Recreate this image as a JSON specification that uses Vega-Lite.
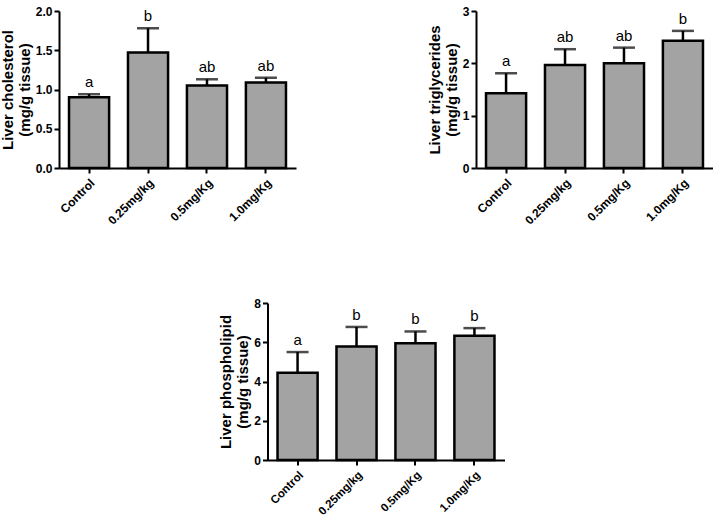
{
  "$schema": "https://vega.github.io/schema/vega-lite/v6.json",
  "background": "white",
  "padding": {"left": 0, "top": 5, "right": 0, "bottom": 0},
  "datasets": {
    "chol": [
      {"group": "Control", "mean": 0.90, "upper": 0.94, "sig": "a"},
      {"group": "0.25mg/kg", "mean": 1.47, "upper": 1.78, "sig": "b"},
      {"group": "0.5mg/Kg", "mean": 1.05, "upper": 1.13, "sig": "ab"},
      {"group": "1.0mg/Kg", "mean": 1.09, "upper": 1.15, "sig": "ab"}
    ],
    "tg": [
      {"group": "Control", "mean": 1.43, "upper": 1.81, "sig": "a"},
      {"group": "0.25mg/kg", "mean": 1.97, "upper": 2.27, "sig": "ab"},
      {"group": "0.5mg/Kg", "mean": 2.00, "upper": 2.30, "sig": "ab"},
      {"group": "1.0mg/Kg", "mean": 2.43, "upper": 2.62, "sig": "b"}
    ],
    "pl": [
      {"group": "Control", "mean": 4.45, "upper": 5.50, "sig": "a"},
      {"group": "0.25mg/kg", "mean": 5.78, "upper": 6.78, "sig": "b"},
      {"group": "0.5mg/Kg", "mean": 5.95, "upper": 6.55, "sig": "b"},
      {"group": "1.0mg/Kg", "mean": 6.33, "upper": 6.72, "sig": "b"}
    ]
  },
  "config": {
    "view": {"stroke": null},
    "font": "Liberation Sans",
    "axis": {
      "grid": false,
      "domainColor": "black",
      "domainWidth": 2,
      "tickColor": "black",
      "tickWidth": 2,
      "tickSize": 5,
      "labelColor": "black",
      "labelFont": "Liberation Sans",
      "labelFontWeight": "bold",
      "labelFontSize": 12,
      "labelOverlap": false,
      "titleColor": "black",
      "titleFont": "Liberation Sans",
      "titleFontWeight": "bold",
      "titleFontSize": 15,
      "titleLineHeight": 17
    },
    "concat": {"spacing": 0}
  },
  "vconcat": [
    {
      "hconcat": [
        {
          "width": 237,
          "height": 157,
          "data": {"name": "chol"},
          "encoding": {
            "x": {"field": "group", "type": "nominal", "sort": null, "title": null,
                  "scale": {"paddingInner": 0.32, "paddingOuter": 0.17},
                  "axis": {"labelAngle": -45, "labelFontSize": 12, "labelAlign": "right", "labelBaseline": "top", "labelPadding": 4}},
            "y": {"field": "mean", "type": "quantitative", "scale": {"domain": [0, 2]},
               "title": ["Liver cholesterol", "(mg/g tissue)"],
               "axis": {"values": [0, 0.5, 1, 1.5, 2], "tickCount": 5, "format": ".1f", "titlePadding": 3}}
          },
          "layer": [
            {"mark": {"type": "bar", "fill": "#a3a3a3", "stroke": "black", "strokeWidth": 2.5}},
            {"mark": {"type": "rule", "stroke": "black", "strokeWidth": 2.5},
             "encoding": {"y2": {"field": "upper"}}},
            {"mark": {"type": "tick", "color": "black", "thickness": 2.5, "size": 22},
             "encoding": {"y": {"field": "upper", "type": "quantitative", "title": ["Liver cholesterol", "(mg/g tissue)"]}}},
            {"mark": {"type": "text", "fontSize": 15, "baseline": "bottom", "dy": -4, "color": "black"},
             "encoding": {"y": {"field": "upper", "type": "quantitative", "title": ["Liver cholesterol", "(mg/g tissue)"]}, "text": {"field": "sig"}}}
          ]
        },
        {
          "width": 237,
          "height": 157,
          "data": {"name": "tg"},
          "encoding": {
            "x": {"field": "group", "type": "nominal", "sort": null, "title": null,
                  "scale": {"paddingInner": 0.32, "paddingOuter": 0.17},
                  "axis": {"labelAngle": -45, "labelFontSize": 12, "labelAlign": "right", "labelBaseline": "top", "labelPadding": 4}},
            "y": {"field": "mean", "type": "quantitative", "scale": {"domain": [0, 3]},
               "title": ["Liver triglycerides", "(mg/g tissue)"],
               "axis": {"values": [0, 1, 2, 3], "tickCount": 4, "format": "d", "titlePadding": 3}}
          },
          "layer": [
            {"mark": {"type": "bar", "fill": "#a3a3a3", "stroke": "black", "strokeWidth": 2.5}},
            {"mark": {"type": "rule", "stroke": "black", "strokeWidth": 2.5},
             "encoding": {"y2": {"field": "upper"}}},
            {"mark": {"type": "tick", "color": "black", "thickness": 2.5, "size": 22},
             "encoding": {"y": {"field": "upper", "type": "quantitative", "title": ["Liver triglycerides", "(mg/g tissue)"]}}},
            {"mark": {"type": "text", "fontSize": 15, "baseline": "bottom", "dy": -4, "color": "black"},
             "encoding": {"y": {"field": "upper", "type": "quantitative", "title": ["Liver triglycerides", "(mg/g tissue)"]}, "text": {"field": "sig"}}}
          ]
        }
      ],
      "spacing": 131
    },
    {
      "width": 237,
      "height": 157,
      "data": {"name": "pl"},
      "encoding": {
        "x": {"field": "group", "type": "nominal", "sort": null, "title": null,
              "scale": {"paddingInner": 0.32, "paddingOuter": 0.17},
              "axis": {"labelAngle": -45, "labelFontSize": 11.5, "labelAlign": "right", "labelBaseline": "top", "labelPadding": 4}},
        "y": {"field": "mean", "type": "quantitative", "scale": {"domain": [0, 8]},
           "title": ["Liver phospholipid", "(mg/g tissue)"],
           "axis": {"values": [0, 2, 4, 6, 8], "tickCount": 5, "format": "d", "titlePadding": 3}}
      },
      "layer": [
        {"mark": {"type": "bar", "fill": "#a3a3a3", "stroke": "black", "strokeWidth": 2.5}},
        {"mark": {"type": "rule", "stroke": "black", "strokeWidth": 2.5},
         "encoding": {"y2": {"field": "upper"}}},
        {"mark": {"type": "tick", "color": "black", "thickness": 2.5, "size": 22},
         "encoding": {"y": {"field": "upper", "type": "quantitative", "title": ["Liver phospholipid", "(mg/g tissue)"]}}},
        {"mark": {"type": "text", "fontSize": 15, "baseline": "bottom", "dy": -4, "color": "black"},
         "encoding": {"y": {"field": "upper", "type": "quantitative", "title": ["Liver phospholipid", "(mg/g tissue)"]}, "text": {"field": "sig"}}}
      ]
    }
  ],
  "spacing": 70,
  "center": true
}
